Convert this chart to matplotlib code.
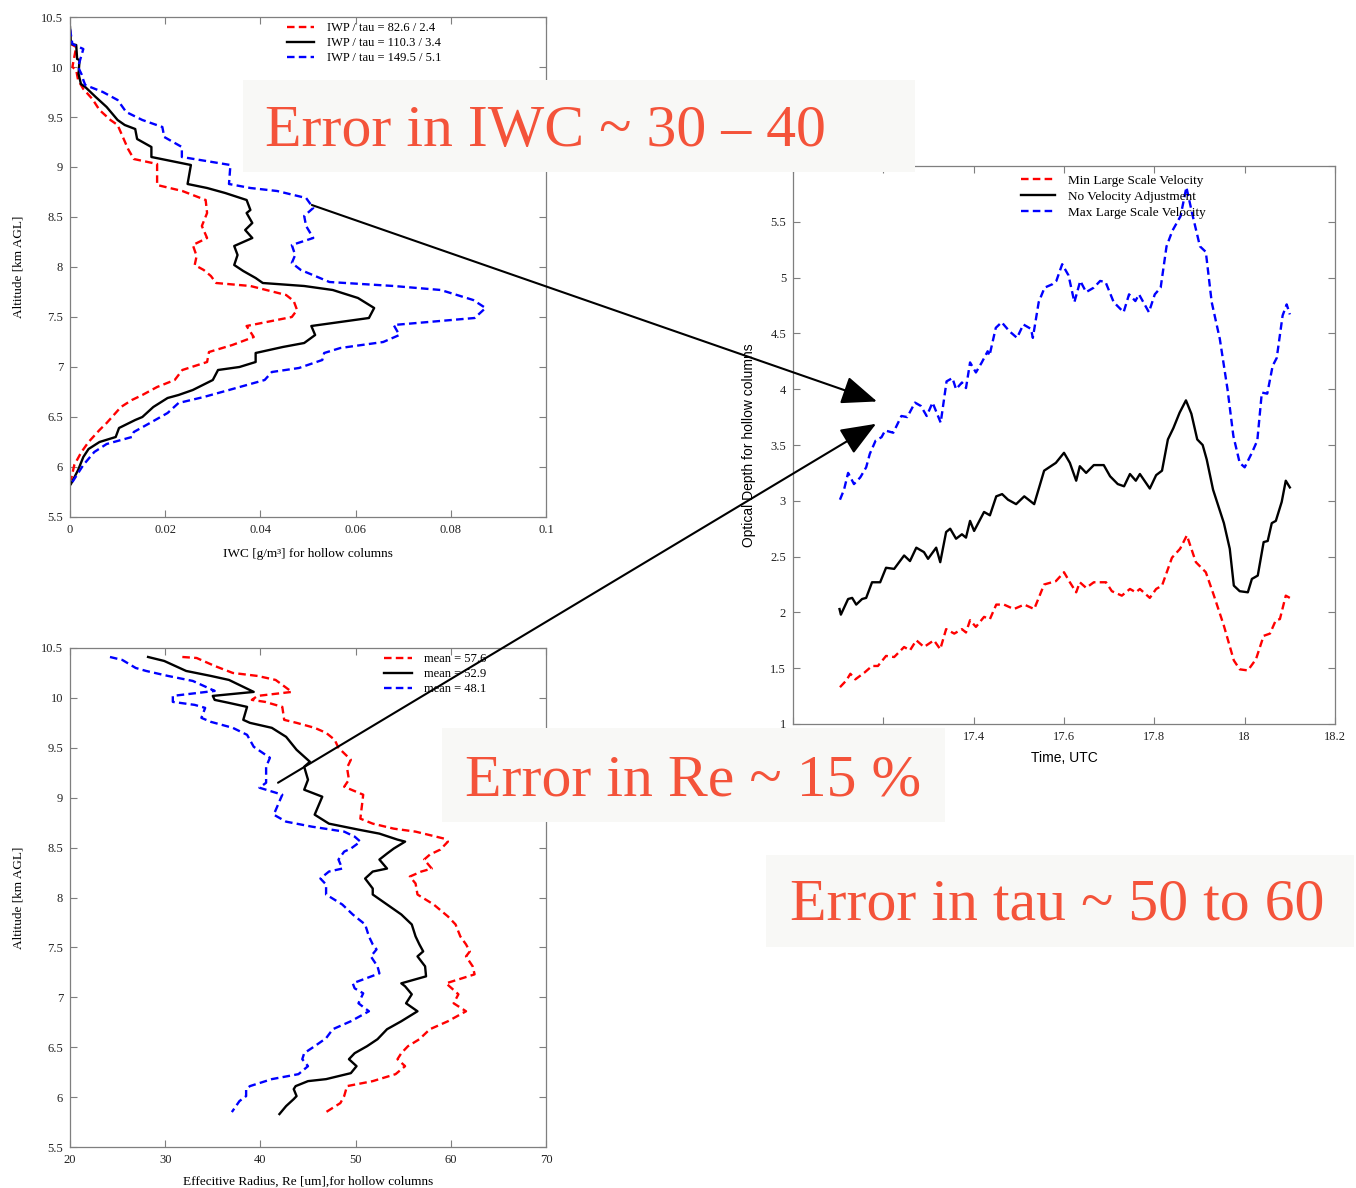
import matplotlib
matplotlib.use("Agg")
import matplotlib.pyplot as plt
from matplotlib.patches import Rectangle, ConnectionPatch, ArrowStyle
from matplotlib.ticker import FuncFormatter

# ---- data (x, y) pairs ----
# top-left: IWC [g/m3] vs altitude [km]
iwc_red = [(0, 10.37), (0.0002, 10.23), (0.0013, 10.20), (0.0005, 10.00), (0.0013, 9.97), (0.0017, 9.87),
           (0.0028, 9.78), (0.0047, 9.68), (0.0062, 9.57), (0.0085, 9.47), (0.010, 9.42), (0.0111, 9.30),
           (0.0122, 9.18), (0.0134, 9.08), (0.0183, 9.03), (0.0183, 8.82), (0.0236, 8.76), (0.0285, 8.67),
           (0.0288, 8.54), (0.0277, 8.41), (0.0288, 8.29), (0.0258, 8.22), (0.0266, 8.11), (0.0262, 8.02),
           (0.0281, 7.97), (0.0296, 7.91), (0.0307, 7.84), (0.0379, 7.81), (0.0454, 7.72), (0.047, 7.66),
           (0.0477, 7.57), (0.0466, 7.50), (0.0371, 7.41), (0.0386, 7.30), (0.0341, 7.22), (0.0292, 7.15),
           (0.0288, 7.05), (0.0236, 6.97), (0.0220, 6.87), (0.0183, 6.80), (0.0152, 6.72), (0.013, 6.67),
           (0.0107, 6.60), (0.0077, 6.44), (0.0062, 6.37), (0.0039, 6.25), (0.0024, 6.15), (0.0009, 6.02),
           (0.0002, 5.87)]
iwc_black = [(0, 10.40), (0.0002, 10.23), (0.0013, 10.22), (0.0015, 10.08), (0.002, 10.07), (0.0018, 9.93),
             (0.0023, 9.83), (0.0032, 9.80), (0.0054, 9.70), (0.0077, 9.60), (0.010, 9.47), (0.0115, 9.42),
             (0.0137, 9.38), (0.0141, 9.28), (0.0171, 9.20), (0.0171, 9.10), (0.0254, 9.02), (0.0247, 8.83),
             (0.0288, 8.79), (0.0326, 8.74), (0.0371, 8.67), (0.0379, 8.57), (0.0371, 8.54), (0.0383, 8.44),
             (0.0368, 8.37), (0.0383, 8.29), (0.0345, 8.21), (0.0352, 8.12), (0.0345, 8.02), (0.0364, 7.96),
             (0.039, 7.89), (0.0405, 7.84), (0.0492, 7.81), (0.0552, 7.77), (0.0605, 7.69), (0.0639, 7.59),
             (0.0628, 7.49), (0.0507, 7.41), (0.0515, 7.32), (0.0492, 7.24), (0.0447, 7.20), (0.039, 7.14),
             (0.039, 7.05), (0.0356, 7.00), (0.0311, 6.97), (0.030, 6.87), (0.0258, 6.77), (0.0228, 6.72),
             (0.0205, 6.69), (0.0175, 6.60), (0.0152, 6.50), (0.0137, 6.47), (0.0103, 6.39), (0.0096, 6.30),
             (0.0062, 6.25), (0.0039, 6.18), (0.0028, 6.10), (0.0017, 5.97), (0.0002, 5.83)]
iwc_blue = [(0, 10.38), (0.0005, 10.23), (0.0028, 10.18), (0.002, 10.05), (0.0017, 10.0), (0.0024, 9.93),
            (0.0028, 9.87), (0.0032, 9.82), (0.0069, 9.75), (0.01, 9.67), (0.0118, 9.55), (0.0152, 9.47),
            (0.0194, 9.40), (0.0198, 9.30), (0.0235, 9.20), (0.0235, 9.10), (0.0337, 9.02), (0.0334, 8.83),
            (0.0379, 8.79), (0.0435, 8.76), (0.0496, 8.69), (0.0511, 8.59), (0.0492, 8.51), (0.0496, 8.41),
            (0.0511, 8.29), (0.0466, 8.22), (0.0473, 8.12), (0.0466, 8.04), (0.0485, 7.97), (0.0515, 7.91),
            (0.0545, 7.85), (0.068, 7.81), (0.0779, 7.77), (0.0847, 7.67), (0.0873, 7.59), (0.085, 7.49),
            (0.068, 7.42), (0.0692, 7.32), (0.0658, 7.25), (0.0568, 7.19), (0.0534, 7.14), (0.053, 7.07),
            (0.0481, 6.99), (0.0424, 6.95), (0.0409, 6.87), (0.0334, 6.77), (0.0281, 6.70), (0.0228, 6.64),
            (0.0205, 6.54), (0.0168, 6.44), (0.0134, 6.35), (0.013, 6.30), (0.0077, 6.23), (0.0051, 6.15),
            (0.0028, 6.02), (0.0005, 5.85)]
iwc_labels = ["IWP / tau = 82.6 / 2.4", "IWP / tau = 110.3 / 3.4", "IWP / tau = 149.5 / 5.1"]

# bottom-left: effective radius [um] vs altitude [km]
re_red = [(31.8, 10.41), (33.3, 10.40), (35.2, 10.32), (37.1, 10.25), (39.7, 10.22), (41.6, 10.18),
          (43.3, 10.06), (39.7, 10.02), (39.1, 9.98), (40.5, 9.96), (42.3, 9.91), (42.5, 9.78), (43.8, 9.75),
          (45.7, 9.70), (46.9, 9.65), (47.8, 9.58), (48.2, 9.50), (49.5, 9.38), (49.1, 9.30), (49.3, 9.18),
          (48.8, 9.11), (50.8, 9.03), (50.5, 8.79), (51.8, 8.74), (54.0, 8.69), (56.3, 8.66), (59.3, 8.59),
          (59.7, 8.56), (58.9, 8.48), (57.8, 8.43), (57.2, 8.38), (58.0, 8.29), (56.9, 8.26), (55.7, 8.21),
          (56.3, 8.14), (56.5, 8.03), (58.2, 7.93), (59.7, 7.81), (60.5, 7.73), (61.0, 7.61), (61.6, 7.53),
          (62.0, 7.46), (61.6, 7.41), (62.3, 7.31), (62.5, 7.23), (59.5, 7.14), (60.1, 7.09), (60.8, 7.03),
          (60.3, 6.94), (61.6, 6.86), (59.7, 6.76), (57.8, 6.68), (56.7, 6.58), (55.5, 6.51), (54.8, 6.44),
          (54.4, 6.38), (55.2, 6.31), (54.2, 6.23), (51.8, 6.16), (49.1, 6.11), (48.8, 6.01), (48.4, 5.94),
          (46.9, 5.85)]
re_black = [(28.2, 10.41), (29.9, 10.37), (32.2, 10.27), (34.8, 10.22), (36.7, 10.18), (39.3, 10.06),
            (35.0, 10.02), (35.2, 9.98), (36.7, 9.95), (38.6, 9.91), (38.2, 9.78), (38.9, 9.75), (41.2, 9.70),
            (42.7, 9.61), (43.8, 9.48), (45.2, 9.36), (44.6, 9.31), (45.0, 9.18), (44.6, 9.08), (46.5, 9.01),
            (45.7, 8.83), (47.2, 8.74), (50.3, 8.68), (52.5, 8.64), (54.4, 8.58), (55.2, 8.56), (54.0, 8.49),
            (53.3, 8.44), (52.5, 8.38), (53.3, 8.29), (51.8, 8.26), (51.0, 8.19), (51.8, 8.09), (51.8, 8.03),
            (53.3, 7.93), (54.8, 7.83), (55.9, 7.73), (56.3, 7.61), (56.7, 7.53), (57.1, 7.46), (56.5, 7.41),
            (57.3, 7.31), (57.4, 7.21), (54.8, 7.14), (55.2, 7.11), (55.9, 7.03), (55.3, 6.94), (56.5, 6.86),
            (54.8, 6.76), (53.3, 6.68), (52.3, 6.58), (51.2, 6.51), (49.9, 6.44), (49.3, 6.38), (50.1, 6.31),
            (49.5, 6.24), (46.9, 6.18), (45.0, 6.16), (43.7, 6.11), (43.5, 6.08), (43.8, 6.01), (43.5, 5.98),
            (42.7, 5.91), (42.0, 5.83)]
re_blue = [(24.2, 10.41), (25.5, 10.38), (26.9, 10.30), (28.0, 10.27), (30.3, 10.22), (32.9, 10.17),
           (35.2, 10.07), (30.8, 10.02), (30.8, 9.96), (33.1, 9.93), (34.2, 9.90), (33.8, 9.80), (34.8, 9.76),
           (37.1, 9.70), (38.6, 9.63), (39.3, 9.51), (41.0, 9.40), (40.6, 9.31), (40.6, 9.15), (39.9, 9.10),
           (42.3, 9.03), (41.4, 8.83), (42.7, 8.76), (45.4, 8.71), (48.8, 8.66), (49.9, 8.61), (50.5, 8.56),
           (49.5, 8.49), (48.8, 8.46), (48.2, 8.38), (48.6, 8.29), (47.2, 8.26), (46.3, 8.19), (46.9, 8.13),
           (46.9, 8.03), (48.6, 7.93), (49.7, 7.83), (51.0, 7.73), (51.4, 7.61), (51.8, 7.53), (52.2, 7.48),
           (51.6, 7.41), (52.3, 7.31), (52.5, 7.24), (49.7, 7.14), (49.9, 7.09), (50.8, 7.04), (50.3, 6.94),
           (51.4, 6.86), (49.5, 6.76), (47.6, 6.68), (46.9, 6.59), (45.7, 6.51), (44.6, 6.44), (44.4, 6.38),
           (45.0, 6.31), (44.0, 6.23), (41.2, 6.18), (38.9, 6.11), (38.5, 6.08), (38.5, 6.01), (37.8, 5.96),
           (37.0, 5.85)]
re_labels = ["mean = 57.6", "mean = 52.9", "mean = 48.1"]

# right: optical depth vs time [UTC hours]
tau_red = [(17.104, 1.33), (17.118, 1.39), (17.127, 1.45), (17.138, 1.40), (17.158, 1.46), (17.175, 1.52),
           (17.188, 1.52), (17.206, 1.61), (17.224, 1.60), (17.246, 1.69), (17.259, 1.66), (17.273, 1.75),
           (17.290, 1.69), (17.312, 1.75), (17.326, 1.67), (17.339, 1.85), (17.357, 1.81), (17.374, 1.85),
           (17.383, 1.82), (17.392, 1.93), (17.405, 1.87), (17.423, 1.96), (17.436, 1.94), (17.450, 2.07),
           (17.467, 2.07), (17.489, 2.03), (17.512, 2.07), (17.534, 2.03), (17.556, 2.25), (17.582, 2.28),
           (17.600, 2.36), (17.613, 2.27), (17.627, 2.18), (17.635, 2.27), (17.649, 2.22), (17.666, 2.27),
           (17.693, 2.27), (17.706, 2.19), (17.728, 2.15), (17.746, 2.21), (17.759, 2.18), (17.768, 2.21),
           (17.790, 2.13), (17.804, 2.21), (17.817, 2.24), (17.839, 2.49), (17.857, 2.57), (17.872, 2.69),
           (17.892, 2.45), (17.914, 2.36), (17.932, 2.15), (17.954, 1.88), (17.976, 1.57), (17.989, 1.49),
           (18.007, 1.48), (18.025, 1.58), (18.042, 1.79), (18.056, 1.81), (18.069, 1.93), (18.078, 1.94),
           (18.091, 2.15), (18.100, 2.13)]
tau_black = [(17.103, 2.03), (17.106, 1.98), (17.122, 2.12), (17.131, 2.13), (17.140, 2.07), (17.153, 2.12),
             (17.162, 2.13), (17.175, 2.27), (17.193, 2.27), (17.206, 2.40), (17.224, 2.39), (17.246, 2.51),
             (17.259, 2.46), (17.273, 2.58), (17.290, 2.54), (17.299, 2.48), (17.317, 2.58), (17.326, 2.45),
             (17.339, 2.72), (17.348, 2.75), (17.361, 2.66), (17.374, 2.70), (17.383, 2.67), (17.392, 2.82),
             (17.401, 2.73), (17.423, 2.90), (17.436, 2.87), (17.450, 3.04), (17.463, 3.06), (17.476, 3.01),
             (17.494, 2.97), (17.512, 3.04), (17.534, 2.97), (17.556, 3.27), (17.582, 3.34), (17.600, 3.43),
             (17.613, 3.34), (17.627, 3.18), (17.635, 3.31), (17.649, 3.25), (17.666, 3.32), (17.688, 3.32),
             (17.702, 3.22), (17.719, 3.15), (17.733, 3.13), (17.746, 3.24), (17.759, 3.18), (17.768, 3.24),
             (17.790, 3.11), (17.804, 3.23), (17.817, 3.27), (17.830, 3.55), (17.842, 3.65), (17.856, 3.79),
             (17.870, 3.90), (17.882, 3.78), (17.895, 3.55), (17.907, 3.50), (17.916, 3.37), (17.930, 3.10),
             (17.954, 2.80), (17.967, 2.57), (17.976, 2.24), (17.989, 2.19), (18.007, 2.18), (18.016, 2.30),
             (18.029, 2.33), (18.042, 2.63), (18.051, 2.64), (18.060, 2.80), (18.069, 2.82), (18.082, 2.99),
             (18.091, 3.18), (18.100, 3.12)]
tau_blue = [(17.104, 3.01), (17.113, 3.10), (17.122, 3.25), (17.135, 3.15), (17.149, 3.21), (17.162, 3.30),
            (17.170, 3.42), (17.183, 3.54), (17.196, 3.57), (17.204, 3.63), (17.222, 3.61), (17.240, 3.76),
            (17.253, 3.75), (17.270, 3.88), (17.283, 3.85), (17.296, 3.76), (17.309, 3.88), (17.327, 3.70),
            (17.340, 4.07), (17.353, 4.10), (17.361, 4.00), (17.374, 4.06), (17.383, 4.01), (17.392, 4.24),
            (17.405, 4.15), (17.418, 4.24), (17.431, 4.34), (17.435, 4.30), (17.449, 4.55), (17.462, 4.60),
            (17.479, 4.52), (17.496, 4.46), (17.510, 4.58), (17.527, 4.54), (17.531, 4.46), (17.544, 4.78),
            (17.557, 4.91), (17.574, 4.94), (17.583, 4.97), (17.596, 5.12), (17.610, 5.02), (17.623, 4.78),
            (17.636, 4.97), (17.649, 4.87), (17.666, 4.91), (17.680, 4.97), (17.692, 4.96), (17.710, 4.78),
            (17.732, 4.69), (17.744, 4.85), (17.758, 4.79), (17.766, 4.85), (17.788, 4.69), (17.801, 4.85),
            (17.814, 4.91), (17.827, 5.28), (17.840, 5.42), (17.858, 5.55), (17.871, 5.81), (17.884, 5.57),
            (17.901, 5.28), (17.914, 5.23), (17.927, 4.78), (17.945, 4.45), (17.962, 4.00), (17.975, 3.58),
            (17.989, 3.34), (18.000, 3.30), (18.016, 3.43), (18.028, 3.54), (18.038, 3.97), (18.050, 3.96),
            (18.062, 4.21), (18.071, 4.28), (18.084, 4.66), (18.093, 4.76), (18.100, 4.67)]
tau_labels = ["Min Large Scale Velocity", "No Velocity Adjustment", "Max Large Scale Velocity"]

notes = ["Error in IWC ~ 30 \u2013 40", "Error in Re ~ 15 %", "Error in tau ~ 50 to 60"]

# ---- layout helpers (pixel boxes measured from the top-left of the picture) ----
W, H = 1356, 1188
SERIF = "Liberation Serif"
SANS = "Liberation Sans"
FRAME = "#7f7f7f"
NOTE_RED = "#f4533a"

plt.rcParams["font.family"] = [SERIF, "DejaVu Serif"]


def px_box(left, top, right, bottom):
    return [left / W, 1 - bottom / H, (right - left) / W, (bottom - top) / H]


def style(ax):
    for s in ax.spines.values():
        s.set_color(FRAME)
        s.set_linewidth(0.9)
    ax.tick_params(direction="in", length=5, width=0.8, color=FRAME, top=True, right=True,
                   labelsize=9, labelcolor="#222222", pad=5)
    fmt = FuncFormatter(lambda v, p: f"{v:g}")
    ax.xaxis.set_major_formatter(fmt)
    ax.yaxis.set_major_formatter(fmt)


def draw_three(ax, red, black, blue, labels):
    styles = [(red, "red", "--"), (black, "black", "-"), (blue, "blue", "--")]
    for (pts, col, ls), lab in zip(styles, labels):
        xs = [p[0] for p in pts]
        ys = [p[1] for p in pts]
        line, = ax.plot(xs, ys, color=col, ls=ls, lw=1.7, label=lab)
        if ls == "--":
            line.set_dashes((3.2, 1.8))


fig = plt.figure(figsize=(W / 100, H / 100), dpi=100)

# top-left: IWC profile
ax1 = fig.add_axes(px_box(70, 17, 546, 517))
draw_three(ax1, iwc_red, iwc_black, iwc_blue, iwc_labels)
ax1.set_xlim(0, 0.1)
ax1.set_ylim(5.5, 10.5)
ax1.set_xticks([0, 0.02, 0.04, 0.06, 0.08, 0.1])
ax1.set_yticks([5.5, 6, 6.5, 7, 7.5, 8, 8.5, 9, 9.5, 10, 10.5])
style(ax1)
ax1.set_xlabel("IWC [g/m\u00b3] for hollow columns", fontsize=9.5, labelpad=9)
ax1.set_ylabel("Altitude [km AGL]", fontsize=9.5, labelpad=12)
ax1.legend(loc="upper left", bbox_to_anchor=(0.455, 0.99), frameon=False, fontsize=9,
           handlelength=2.2, handletextpad=1.0, labelspacing=0.25, borderpad=0, borderaxespad=0)

# bottom-left: effective radius profile
ax2 = fig.add_axes(px_box(70, 648, 546, 1147))
draw_three(ax2, re_red, re_black, re_blue, re_labels)
ax2.set_xlim(20, 70)
ax2.set_ylim(5.5, 10.5)
ax2.set_xticks([20, 30, 40, 50, 60, 70])
ax2.set_yticks([5.5, 6, 6.5, 7, 7.5, 8, 8.5, 9, 9.5, 10, 10.5])
style(ax2)
ax2.set_xlabel("Effecitive Radius, Re [um],for hollow columns", fontsize=9.5, labelpad=7)
ax2.set_ylabel("Altitude [km AGL]", fontsize=9.5, labelpad=12)
ax2.legend(loc="upper left", bbox_to_anchor=(0.66, 0.99), frameon=False, fontsize=9,
           handlelength=2.2, handletextpad=1.0, labelspacing=0.25, borderpad=0, borderaxespad=0)

# right: optical depth time series
ax3 = fig.add_axes(px_box(793, 166, 1335, 724))
draw_three(ax3, tau_red, tau_black, tau_blue, tau_labels)
ax3.set_xlim(17.0, 18.2)
ax3.set_ylim(1, 6)
ax3.set_xticks([17, 17.2, 17.4, 17.6, 17.8, 18, 18.2])
ax3.set_yticks([1, 1.5, 2, 2.5, 3, 3.5, 4, 4.5, 5, 5.5, 6])
style(ax3)
ax3.set_xlabel("Time, UTC", fontsize=10, family=SANS, labelpad=6)
ax3.set_ylabel("Optical Depth for hollow columns", fontsize=10, family=SANS, labelpad=10)
ax3.legend(loc="upper left", bbox_to_anchor=(0.42, 0.985), frameon=False, fontsize=9.5,
           handlelength=2.6, handletextpad=1.0, labelspacing=0.3, borderpad=0, borderaxespad=0)

# arrows from the profiles to the optical depth series
head = ArrowStyle("-|>", head_length=0.55, head_width=0.22)
for axA, xyA, xyB in [(ax1, (0.0508, 8.62), (17.186, 3.89)), (ax2, (41.85, 9.15), (17.184, 3.69))]:
    con = ConnectionPatch(xyA=xyA, coordsA=axA.transData, xyB=xyB, coordsB=ax3.transData,
                          arrowstyle=head, mutation_scale=40, lw=1.5, color="black",
                          shrinkA=0, shrinkB=0, zorder=6)
    fig.add_artist(con)

# overlaid call-out boxes
note_boxes = [(243, 80, 915, 172), (442, 728, 945, 822), (766, 855, 1354, 947)]
note_text_pos = [(265, 146), (465, 796), (790, 920)]
for (l, t, r, b), (tx, ty), txt in zip(note_boxes, note_text_pos, notes):
    fig.add_artist(Rectangle((l / W, 1 - b / H), (r - l) / W, (b - t) / H, transform=fig.transFigure,
                             facecolor="#f8f8f6", edgecolor="none", zorder=4))
    fig.text(tx / W, 1 - ty / H, txt, fontsize=43, color=NOTE_RED, family=SERIF,
             ha="left", va="baseline", zorder=5)

fig.savefig("out.png", dpi=100, facecolor="white")
